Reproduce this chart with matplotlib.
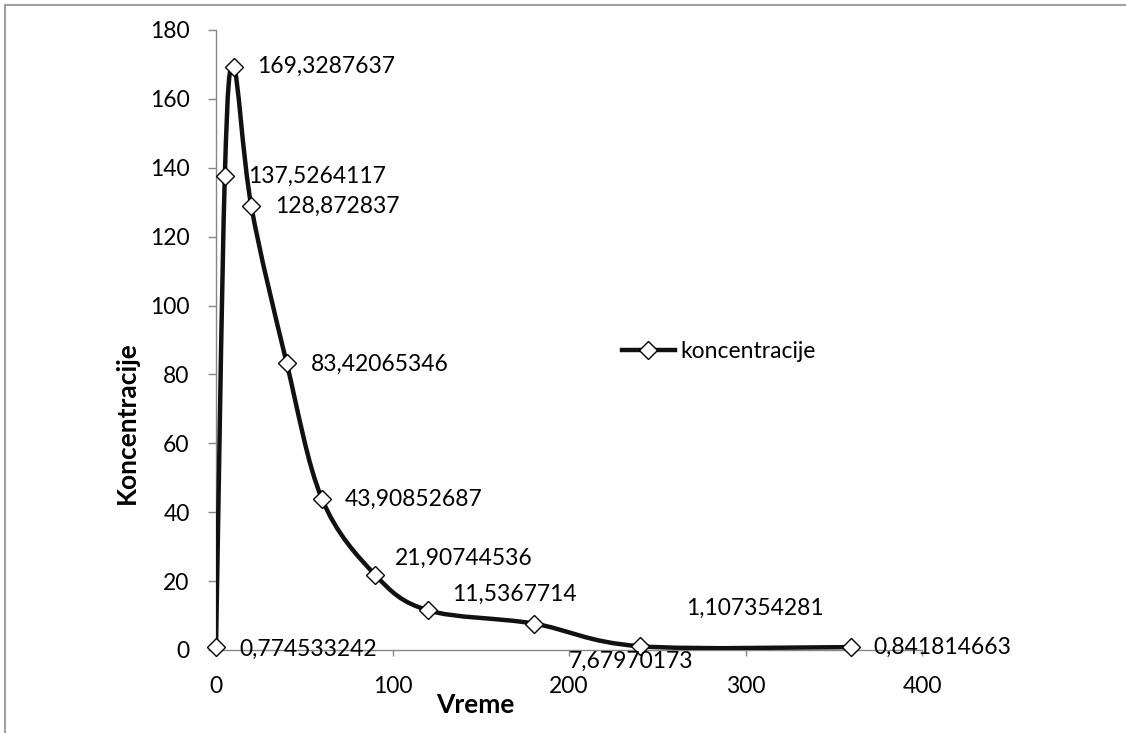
import numpy as np
import matplotlib.pyplot as plt
from matplotlib.path import Path
from matplotlib.patches import PathPatch
from matplotlib.lines import Line2D

vreme = [0, 5, 10, 20, 40, 60, 90, 120, 180, 240, 360]
koncentracije = [0.774533242, 137.5264117, 169.3287637, 128.872837, 83.42065346,
                 43.90852687, 21.90744536, 11.5367714, 7.67970173, 1.107354281,
                 0.841814663]
# label offsets in pixels (dx, dy) from each point
label_offsets = [(23, -2), (23, 0), (23, 0), (24, 0), (24, -2), (23, -1),
                 (20, 16), (24, 16), (35, -38), (47, 38), (22, 0)]

plt.rcParams['font.family'] = ['Lato', 'DejaVu Sans']
fs = 16.5
gray = '#868686'

fig = plt.figure(figsize=(11.26, 7.33), dpi=100)
ax = fig.add_axes([216 / 1126, 1 - 650 / 733, 706 / 1126, 620 / 733])

# smoothed line (Catmull-Rom style bezier, like spreadsheet smoothing)
x = np.array(vreme, dtype=float)
y = np.array(koncentracije, dtype=float)
px = np.concatenate([[x[0]], x, [x[-1]]])
py = np.concatenate([[y[0]], y, [y[-1]]])
verts = [(x[0], y[0])]
codes = [Path.MOVETO]
for i in range(1, len(px) - 2):
    c1 = (px[i] + (px[i + 1] - px[i - 1]) / 6, py[i] + (py[i + 1] - py[i - 1]) / 6)
    c2 = (px[i + 1] - (px[i + 2] - px[i]) / 6, py[i + 1] - (py[i + 2] - py[i]) / 6)
    verts += [c1, c2, (px[i + 1], py[i + 1])]
    codes += [Path.CURVE4] * 3
ax.add_patch(PathPatch(Path(verts, codes), fill=False, lw=3.2, edgecolor='#111111',
                       capstyle='round', joinstyle='round', zorder=3))
ax.plot(vreme, koncentracije, ls='none', marker='D', ms=9.5, mfc='white',
        mec='black', mew=1.0, zorder=4, clip_on=False)

for xv, yv, (dx, dy) in zip(vreme, koncentracije, label_offsets):
    ax.annotate(str(yv).replace('.', ','), (xv, yv), xytext=(dx, dy),
                textcoords='offset pixels', ha='left', va='center', fontsize=fs,
                zorder=5, annotation_clip=False)

ax.set_xlim(0, 400)
ax.set_ylim(0, 180)
ax.set_xticks([0, 100, 200, 300, 400])
ax.set_yticks(range(0, 181, 20))
for s in ['top', 'right']:
    ax.spines[s].set_visible(False)
for s in ['left', 'bottom']:
    ax.spines[s].set_color(gray)
    ax.spines[s].set_linewidth(1)
ax.tick_params(axis='y', length=6, width=1, color=gray, pad=13, labelsize=fs)
ax.tick_params(axis='x', length=4, width=1, color=gray, pad=15, labelsize=fs)

ax.set_xlabel('Vreme', fontsize=19, fontweight='bold')
ax.xaxis.set_label_coords(0.367, -0.089)
ax.xaxis.label.set_va('center')
ax.set_ylabel('Koncentracije', fontsize=19, fontweight='bold')
ax.yaxis.set_label_coords(-0.126, 0.366)
ax.yaxis.label.set_va('center')

handle = Line2D([], [], color='#111111', lw=3.2, marker='D', ms=9.5, mfc='white',
                mec='black', mew=1.0)
fig.legend([handle], ['koncentracije'], loc='center left',
           bbox_to_anchor=(622 / 1126, 1 - 352 / 733), frameon=False,
           fontsize=fs, handlelength=2.3, handletextpad=0.25, borderpad=0,
           borderaxespad=0)

# chart area border
fig.add_artist(Line2D([5 / 1126, 5 / 1126], [0, 1 - 5 / 733],
                      transform=fig.transFigure, color='#a0a0a0', lw=1.5))
fig.add_artist(Line2D([5 / 1126, 1], [1 - 5 / 733, 1 - 5 / 733],
                      transform=fig.transFigure, color='#a0a0a0', lw=1.5))

fig.savefig('out.png', dpi=100)
